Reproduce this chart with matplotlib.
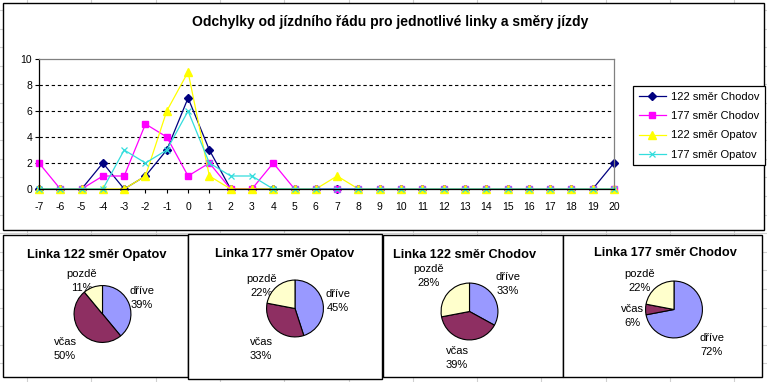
import matplotlib
matplotlib.use("Agg")
import matplotlib.pyplot as plt
from matplotlib.patches import Rectangle

plt.rcParams['font.family'] = ['Liberation Sans', 'DejaVu Sans']

# ---------------- data ----------------
categories = [-7, -6, -5, -4, -3, -2, -1, 0, 1, 2, 3, 4, 5, 6, 7, 8, 9, 10,
              11, 12, 13, 14, 15, 16, 17, 18, 19, 20]
chodov_122 = [0, 0, 0, 2, 0, 1, 3, 7, 3, 0, 0, 0, 0, 0, 0, 0, 0, 0,
              0, 0, 0, 0, 0, 0, 0, 0, 0, 2]
chodov_177 = [2, 0, 0, 1, 1, 5, 4, 1, 2, 0, 0, 2, 0, 0, 0, 0, 0, 0,
              0, 0, 0, 0, 0, 0, 0, 0, 0, 0]
opatov_122 = [0, 0, 0, 0, 0, 1, 6, 9, 1, 0, 0, 0, 0, 0, 1, 0, 0, 0,
              0, 0, 0, 0, 0, 0, 0, 0, 0, 0]
opatov_177 = [0, 0, 0, 0, 3, 2, 3, 6, 2, 1, 1, 0, 0, 0, 0, 0, 0, 0,
              0, 0, 0, 0, 0, 0, 0, 0, 0, 0]
series_names = ["122 směr Chodov", "177 směr Chodov", "122 směr Opatov", "177 směr Opatov"]
y_ticks = [0, 2, 4, 6, 8, 10]

main_title = "Odchylky od jízdního řádu pro jednotlivé linky a směry jízdy"

pie_titles = ["Linka 122 směr Opatov", "Linka 177 směr Opatov",
              "Linka 122 směr Chodov", "Linka 177 směr Chodov"]
pie_categories = ["dříve", "včas", "pozdě"]
pie_122_opatov = [39, 50, 11]
pie_177_opatov = [45, 33, 22]
pie_122_chodov = [33, 39, 28]
pie_177_chodov = [72, 6, 22]

# ---------------- layout / style ----------------
W, H = 767, 382
fig = plt.figure(figsize=(W / 100, H / 100), dpi=100)
fig.patch.set_facecolor('white')

def fr(x0, y0, x1, y1):
    """pixel box (top-left origin) -> figure fraction rect"""
    return [x0 / W, 1 - y1 / H, (x1 - x0) / W, (y1 - y0) / H]

# background axes in pixel coordinates
bg = fig.add_axes([0, 0, 1, 1])
bg.set_xlim(0, W)
bg.set_ylim(H, 0)
bg.axis('off')

# spreadsheet grid in background
gx = 27.0
while gx < W:
    bg.plot([gx, gx], [0, H], color='#d0d0d0', lw=0.8, zorder=0)
    gx += 64.3
gy = 10.0
while gy < H:
    bg.plot([0, W], [gy, gy], color='#d0d0d0', lw=0.8, zorder=0)
    gy += 18.6

# chart boxes
boxes = [(3, 3, 764, 230), (3, 235, 188, 377), (188, 234, 382, 379),
         (383, 235, 563, 377), (563, 235, 762, 377)]
for (x0, y0, x1, y1) in boxes:
    bg.add_patch(Rectangle((x0, y0), x1 - x0, y1 - y0, facecolor='white',
                           edgecolor='black', lw=1.0, zorder=2))

bg.text(390, 22, main_title, ha='center', va='center', fontsize=10,
        fontweight='bold', zorder=5)

# ---------------- line chart ----------------
ax = fig.add_axes(fr(39, 59, 614, 189))
ax.set_zorder(3)
ax.patch.set_alpha(0)
styles = [
    dict(color='#000080', marker='D', markersize=4.2, mfc='#000080', mec='#000080'),
    dict(color='#FF00FF', marker='s', markersize=5.0, mfc='#FF00FF', mec='#FF00FF'),
    dict(color='#FFFF00', marker='^', markersize=5.5, mfc='#FFFF00', mec='#FFFF00'),
    dict(color='#33DDDD', marker='x', markersize=4.5, mfc='#33DDDD', mec='#33DDDD', mew=0.9),
]
series = [chodov_122, chodov_177, opatov_122, opatov_177]
handles = []
for vals, name, st in zip(series, series_names, styles):
    h, = ax.plot(categories, vals, lw=0.9, label=name, clip_on=False, **st)
    handles.append(h)

ax.set_xlim(categories[0], categories[-1])
ax.set_ylim(y_ticks[0], y_ticks[-1])
ax.set_xticks(categories)
ax.set_xticklabels([str(c) for c in categories])
ax.set_yticks(y_ticks)
for yv in y_ticks[1:-1]:
    ax.axhline(yv, color='black', lw=0.8, linestyle=(0, (3, 2.5)), zorder=0)
for s in ['top', 'right']:
    ax.spines[s].set_color('#808080')
    ax.spines[s].set_linewidth(0.9)
for s in ['left', 'bottom']:
    ax.spines[s].set_color('black')
    ax.spines[s].set_linewidth(0.9)
ax.tick_params(axis='both', labelsize=7.5, length=3, width=0.8, direction='out')
ax.tick_params(axis='x', pad=6)
ax.tick_params(axis='y', pad=2)

leg = fig.legend(handles=handles, loc='upper left',
                 bbox_to_anchor=(633 / W, 1 - 86 / H), borderaxespad=0,
                 frameon=True, fancybox=False, fontsize=8, handlelength=2.5,
                 handletextpad=0.4, labelspacing=0.85, borderpad=0.5,
                 edgecolor='black', framealpha=1)
leg.get_frame().set_linewidth(0.9)
leg.set_zorder(6)

# ---------------- pies ----------------
pie_colors = ['#9999FF', '#8E2F62', '#FFFFCC']
pie_values = [pie_122_opatov, pie_177_opatov, pie_122_chodov, pie_177_chodov]
pie_centers = [(102.5, 314), (295, 308.5), (469.5, 311.5), (674, 309.5)]
pie_radius = 29
title_pos = [(97, 255), (285, 254), (465, 255), (665, 253)]
# label anchor positions (pixel) for dříve, včas, pozdě
label_pos = [
    [(142, 298), (65, 349), (82, 281)],
    [(338, 301), (261, 349), (262, 286)],
    [(508, 284), (457, 358), (429, 276)],
    [(712, 345), (632, 316), (640, 281)],
]

for vals, title, (cx, cy), tp, lp in zip(pie_values, pie_titles, pie_centers,
                                         title_pos, label_pos):
    pax = fig.add_axes(fr(cx - pie_radius, cy - pie_radius,
                          cx + pie_radius, cy + pie_radius))
    pax.set_zorder(4)
    pax.pie(vals, colors=pie_colors, startangle=90, counterclock=False,
            radius=1.0, wedgeprops=dict(edgecolor='black', linewidth=0.8))
    pax.set_xlim(-1.02, 1.02)
    pax.set_ylim(-1.02, 1.02)
    pax.set_aspect('equal')
    pax.axis('off')
    bg.text(tp[0], tp[1], title, ha='center', va='center', fontsize=9.2,
            fontweight='bold', zorder=5)
    for cat, v, (lx, ly) in zip(pie_categories, vals, lp):
        bg.text(lx, ly, f"{cat}\n{v}%", ha='center', va='center', fontsize=8,
                linespacing=1.45, zorder=5)

fig.savefig('out.png', dpi=100)
